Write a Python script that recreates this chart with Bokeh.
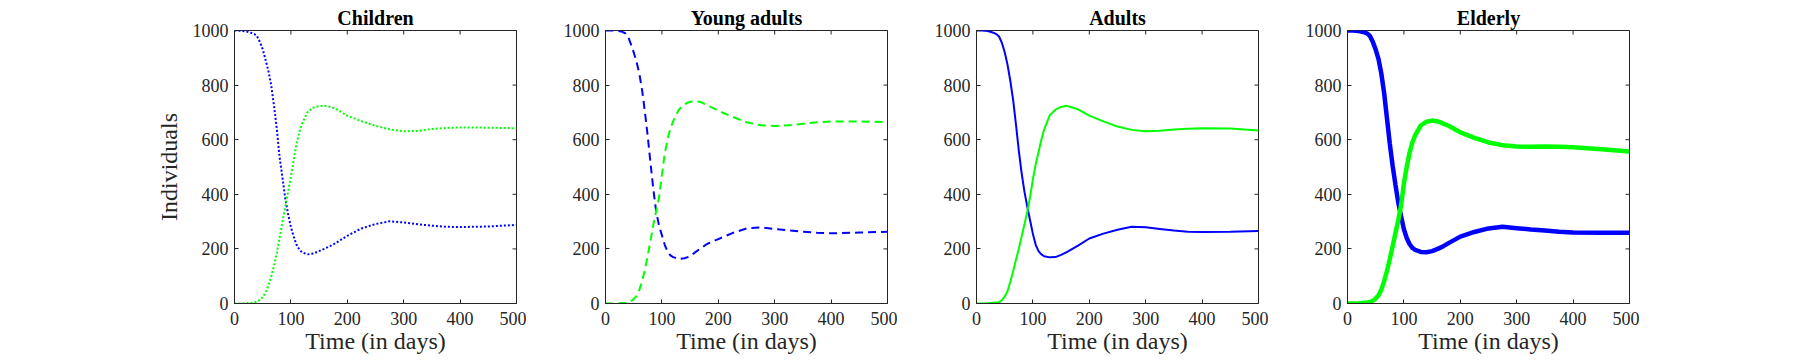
import math
from bokeh.plotting import figure
from bokeh.layouts import row
from bokeh.models import Range1d, FixedTicker
from bokeh.embed import file_html
from bokeh.resources import INLINE

# ---------------- data ----------------
t = [0, 10, 20, 30, 35, 40, 45, 50, 55, 60, 65, 70, 75, 80, 85, 90, 95, 100, 105, 110, 115, 120,
     130, 140, 150, 160, 170, 180, 200, 225, 250, 275, 300, 325, 350, 375, 400, 450, 500]

titles = ["Children", "Young adults", "Adults", "Elderly"]

children_blue = [1000, 999, 997, 991, 987, 979, 958, 932, 893, 853, 800, 725, 640, 535, 462, 385, 328, 280, 245, 215, 197, 187,
                 180, 183, 192, 201, 211, 222, 248, 275, 291, 301, 297, 290, 285, 281, 280, 282, 288]
children_green = [0, 0, 1, 2, 4, 7, 13, 23, 40, 65, 98, 138, 185, 240, 298, 352, 410, 465, 525, 585, 628, 660,
                  703, 718, 723, 724, 720, 713, 688, 668, 651, 638, 631, 632, 639, 643, 645, 644, 642]

young_blue = [1000, 1000, 999, 995, 990, 979, 950, 920, 885, 842, 780, 700, 610, 510, 415, 335, 285, 250, 215, 190, 176, 170,
              163, 166, 173, 189, 204, 218, 236, 258, 275, 279, 273, 268, 263, 259, 257, 260, 263]
young_green = [0, 0, 1, 2, 2, 2, 8, 16, 27, 50, 82, 125, 178, 232, 290, 340, 390, 470, 548, 601, 640, 668,
               710, 730, 739, 741, 737, 727, 706, 684, 664, 653, 650, 653, 658, 664, 667, 667, 664]

adults_blue = [1000, 1000, 998, 992, 987, 978, 955, 920, 875, 815, 745, 655, 560, 478, 410, 355, 305, 255, 215, 192, 180, 173,
               169, 170, 178, 188, 200, 212, 238, 256, 270, 281, 279, 273, 267, 263, 262, 263, 266]
adults_green = [0, 0, 1, 3, 4, 5, 12, 25, 45, 80, 118, 160, 200, 245, 290, 335, 390, 455, 510, 555, 600, 638,
                690, 710, 720, 724, 718, 711, 688, 667, 648, 636, 631, 633, 637, 640, 642, 641, 634]

elderly_blue = [1000, 1000, 998, 993, 989, 979, 958, 930, 895, 842, 770, 678, 585, 505, 435, 370, 320, 272, 240, 218, 204, 196,
                189, 188, 192, 200, 210, 222, 245, 262, 275, 281, 276, 271, 267, 263, 260, 259, 259]
elderly_green = [0, 0, 1, 3, 4, 6, 10, 18, 30, 50, 82, 120, 163, 210, 258, 305, 360, 440, 500, 552, 590, 617,
                 652, 666, 670, 667, 659, 650, 627, 607, 590, 580, 575, 574, 575, 574, 572, 565, 557]

x_ticks = [0, 100, 200, 300, 400, 500]
y_ticks = [0, 200, 400, 600, 800, 1000]
x_max = 500
y_max = 1000

blues = [children_blue, young_blue, adults_blue, elderly_blue]
greens = [children_green, young_green, adults_green, elderly_green]

# ---------------- styles ----------------
styles = [
    dict(line_width=2, line_dash="2 2"),
    dict(line_width=2, line_dash="8 5"),
    dict(line_width=2, line_dash="solid"),
    dict(line_width=4.5, line_dash="solid"),
]

FONT = "Liberation Serif"
AX = "#262626"

figs = []
for i in range(4):
    left = 234 if i == 0 else 79
    w = left + 282 + 10
    p = figure(width=w, height=360, output_backend="svg", toolbar_location=None,
               x_range=Range1d(0, x_max), y_range=Range1d(0, y_max),
               min_border_left=left, min_border_right=10,
               min_border_top=30, min_border_bottom=57,
               title=titles[i])
    p.title.text_font = FONT
    p.title.text_font_size = "20px"
    p.title.text_font_style = "bold"
    p.title.text_color = "black"
    p.title.align = "center"
    p.title.standoff = 4
    p.xgrid.visible = False
    p.ygrid.visible = False
    p.outline_line_color = AX
    p.outline_line_width = 1
    p.outline_line_alpha = 1

    for ax in (p.xaxis[0], p.yaxis[0]):
        ax.major_tick_in = 4
        ax.major_tick_out = 0
        ax.minor_tick_in = 0
        ax.minor_tick_out = 0
        ax.axis_line_color = AX
        ax.major_tick_line_color = AX
        ax.major_label_text_font = FONT
        ax.major_label_text_font_size = "18px"
        ax.major_label_text_color = AX
        ax.axis_label_text_font = FONT
        ax.axis_label_text_font_size = "24px"
        ax.axis_label_text_font_style = "normal"
        ax.axis_label_text_color = AX
    p.xaxis[0].ticker = FixedTicker(ticks=x_ticks)
    p.yaxis[0].ticker = FixedTicker(ticks=y_ticks)
    p.xaxis[0].axis_label = "Time (in days)"
    p.xaxis[0].major_label_standoff = 8
    p.xaxis[0].axis_label_standoff = 0
    p.yaxis[0].major_label_standoff = 6
    if i == 0:
        p.yaxis[0].axis_label = "Individuals"
        p.yaxis[0].axis_label_standoff = 8

    # box ticks on the top and right edges (inward half stays inside the frame)
    p.scatter(x_ticks, [y_max] * len(x_ticks), marker="dash", size=8, angle=math.pi / 2,
              line_color=AX, line_width=1)
    p.scatter([x_max] * len(y_ticks), y_ticks, marker="dash", size=8,
              line_color=AX, line_width=1)

    p.line(t, blues[i], line_color="#0000FF", **styles[i])
    p.line(t, greens[i], line_color="#00FF00", **styles[i])
    figs.append(p)

layout = row(*figs, spacing=0)
open("out.html", "w").write(file_html(layout, INLINE))
